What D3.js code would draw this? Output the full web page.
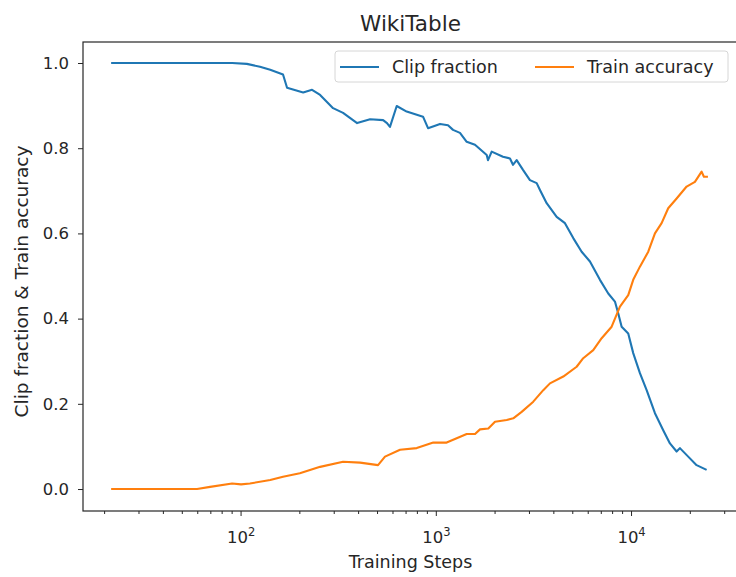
<!DOCTYPE html>
<html>
  <head>
    <meta charset="utf-8">
    <title>WikiTable</title>
    <script src="https://cdn.jsdelivr.net/npm/d3@7"></script>
    <style>
      body { margin: 0; background: #fff; }
      text { font-family: "DejaVu Sans", sans-serif; fill: #262626; }
      .axis path, .axis line { stroke: #262626; }
    </style>
  </head>

  <body>
    <svg id="chart" width="736" height="577"></svg>

    <script>
      // data
      clipSteps = [21.6, 90, 107, 125, 141, 164, 172, 208, 231, 254, 296, 333, 393, 458, 534, 559, 579, 627, 705, 855,
        907, 1045, 1148, 1218, 1322, 1431, 1578, 1812, 1840, 1922, 2195, 2384, 2470, 2580, 2780, 3017, 3267, 3396, 3675,
        4135, 4560, 5029, 5552, 6124, 6890, 7599, 8222, 8551, 8898, 9618, 10200, 11040, 11950, 13180, 14530, 15730,
        17020, 17690, 19510, 21540, 24240];
      clipValues = [1.0, 1.0, 0.998, 0.991, 0.984, 0.973, 0.942, 0.931, 0.937, 0.925, 0.894, 0.883, 0.859, 0.868, 0.866,
        0.859, 0.85, 0.899, 0.886, 0.874, 0.847, 0.857, 0.854, 0.843, 0.836, 0.815, 0.808, 0.784, 0.772, 0.792, 0.78,
        0.776, 0.761, 0.772, 0.749, 0.725, 0.718, 0.702, 0.671, 0.639, 0.624, 0.589, 0.557, 0.534, 0.491, 0.459, 0.44,
        0.412, 0.381, 0.365, 0.319, 0.272, 0.232, 0.178, 0.138, 0.107, 0.088, 0.096, 0.076, 0.056, 0.045];

      accSteps = [21.6, 59.5, 69.4, 90, 100, 111, 141, 164, 200, 254, 333, 407, 503, 546, 652, 794, 965, 1130, 1272,
        1431, 1579, 1674, 1847, 1998, 2294, 2479, 2737, 3138, 3531, 3821, 4470, 5234, 5657, 6366, 7030, 7909, 8723,
        9618, 10200, 11040, 12180, 13180, 14260, 15410, 17020, 19150, 21120, 22850, 23480, 24620];
      accValues = [0, 0, 0.005, 0.013, 0.011, 0.013, 0.021, 0.029, 0.037, 0.052, 0.064, 0.062, 0.056, 0.076, 0.092,
        0.096, 0.109, 0.109, 0.119, 0.129, 0.129, 0.14, 0.142, 0.158, 0.162, 0.166, 0.181, 0.205, 0.232, 0.248, 0.264,
        0.287, 0.307, 0.326, 0.354, 0.381, 0.428, 0.455, 0.491, 0.522, 0.557, 0.6, 0.624, 0.659, 0.682, 0.71, 0.721,
        0.745, 0.733, 0.733];

      yTicks = [0, 0.2, 0.4, 0.6, 0.8, 1.0];
      xTickExponents = [2, 3, 4];
      seriesNames = ["Clip fraction", "Train accuracy"];
      seriesColours = ["#1f77b4", "#ff7f0e"];

      // page elements
      chart = d3.select("#chart");
      margin = { top: 42, right: -2, bottom: 66, left: 83 };
      width = 736 - margin.left - margin.right;
      height = 577 - margin.top - margin.bottom;

      x = d3.scaleLog()
        .domain([15.5, 35100])
        .range([margin.left, margin.left + width]);
      y = d3.scaleLinear()
        .domain([-0.0516, 1.0493])
        .range([margin.top + height, margin.top]);

      // axes
      yAxis = d3.axisLeft(y)
        .tickValues(yTicks)
        .tickFormat(d3.format(".1f"))
        .tickSize(5)
        .tickPadding(9);
      chart.append("g")
        .attr("class", "axis")
        .attr("transform", "translate(" + margin.left + ",0)")
        .call(yAxis)
        .call(function(g) { g.select(".domain").remove(); })
        .selectAll("text")
          .style("font-size", "16.5px")
          .style("font-family", "DejaVu Sans");

      // minor x ticks
      minorTicks = [];
      xTickExponents.concat([1]).forEach(function(e) {
        for (k = 2; k < 10; k++) {
          v = k * Math.pow(10, e);
          if (v > x.domain()[0] && v < x.domain()[1]) minorTicks.push(v);
        }
      });
      xAxisGroup = chart.append("g")
        .attr("class", "axis")
        .attr("transform", "translate(0," + (margin.top + height) + ")");
      xAxisGroup.selectAll(".minor")
          .data(minorTicks)
        .enter().append("line")
          .attr("x1", function(d) { return x(d); })
          .attr("x2", function(d) { return x(d); })
          .attr("y2", 3);
      majors = xAxisGroup.selectAll(".major")
          .data(xTickExponents)
        .enter().append("g")
          .attr("transform", function(d) { return "translate(" + x(Math.pow(10, d)) + ",0)"; });
      majors.append("line").attr("y2", 5);
      majorLabels = majors.append("text")
        .attr("y", 32)
        .attr("text-anchor", "middle")
        .style("font-size", "16.5px");
      majorLabels.append("tspan").text("10");
      majorLabels.append("tspan")
        .attr("dy", -7)
        .style("font-size", "11.5px")
        .text(function(d) { return d; });

      // frame
      chart.append("rect")
        .attr("x", margin.left)
        .attr("y", margin.top)
        .attr("width", width)
        .attr("height", height)
        .attr("fill", "none")
        .attr("stroke", "#262626")
        .attr("stroke-width", 1.2);

      // lines
      line = d3.line()
        .x(function(d) { return x(d[0]); })
        .y(function(d) { return y(d[1]); });
      series = [
        d3.zip(clipSteps, clipValues),
        d3.zip(accSteps, accValues)
      ];
      chart.selectAll(".series")
          .data(series)
        .enter().append("path")
          .attr("d", line)
          .attr("fill", "none")
          .attr("stroke", function(d, i) { return seriesColours[i]; })
          .attr("stroke-width", 2.1)
          .attr("stroke-linejoin", "round");

      // title and labels
      chart.append("text")
        .attr("x", margin.left + width / 2)
        .attr("y", 31)
        .attr("text-anchor", "middle")
        .style("font-size", "21.5px")
        .text("WikiTable");
      chart.append("text")
        .attr("x", margin.left + width / 2)
        .attr("y", 568)
        .attr("text-anchor", "middle")
        .style("font-size", "17.5px")
        .text("Training Steps");
      chart.append("text")
        .attr("transform", "translate(28," + (margin.top + height / 2 + 5) + ") rotate(-90)")
        .attr("text-anchor", "middle")
        .style("font-size", "18.5px")
        .text("Clip fraction & Train accuracy");

      // legend
      legend = chart.append("g");
      legend.append("rect")
        .attr("x", 335)
        .attr("y", 51)
        .attr("width", 393)
        .attr("height", 31)
        .attr("rx", 3)
        .attr("fill", "#fff")
        .attr("fill-opacity", 0.8)
        .attr("stroke", "#d6d6d6");
      legendX = [340, 535];
      items = legend.selectAll(".item")
          .data(seriesNames)
        .enter().append("g")
          .attr("transform", function(d, i) { return "translate(" + legendX[i] + ",67)"; });
      items.append("line")
        .attr("x2", 39)
        .attr("stroke", function(d, i) { return seriesColours[i]; })
        .attr("stroke-width", 2.1);
      items.append("text")
        .attr("x", 52)
        .attr("dy", "0.35em")
        .style("font-size", "17.5px")
        .text(function(d) { return d; });
    </script>
  </body>
</html>
